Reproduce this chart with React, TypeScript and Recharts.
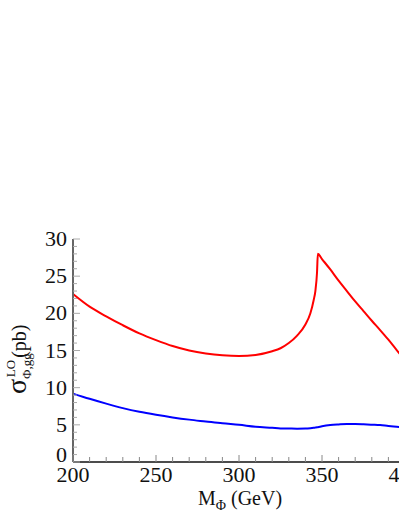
import { Line, LineChart, XAxis, YAxis } from "recharts";

const masses = [
  200, 210, 220, 230, 240, 250, 260, 270, 280, 290, 300, 310, 320, 325, 330,
  335, 340, 343, 345, 346, 347, 347.5, 350, 355, 360, 365, 370, 375, 380, 385,
  390, 395, 400,
];

const sigmaRed = [
  22.6, 20.9, 19.6, 18.4, 17.3, 16.4, 15.6, 15.0, 14.6, 14.35, 14.25, 14.4,
  14.9, 15.3, 16.0, 17.0, 18.5, 20.0, 21.8, 23.0, 25.5, 28.0, 27.3, 25.9, 24.4,
  23.0, 21.6, 20.3, 19.0, 17.75, 16.45, 15.05, 13.7,
];

const sigmaBlue = [
  9.2, 8.5, 7.85, 7.25, 6.75, 6.35, 6.0, 5.7, 5.45, 5.2, 5.0, 4.75, 4.6, 4.52,
  4.5, 4.48, 4.5, 4.55, 4.6, 4.63, 4.66, 4.68, 4.8, 4.97, 5.05, 5.1, 5.1, 5.07,
  5.02, 4.97, 4.85, 4.75, 4.65,
];

const xTicks = [
  200, 210, 220, 230, 240, 250, 260, 270, 280, 290, 300, 310, 320, 330, 340,
  350, 360, 370, 380, 390, 400,
];
const xLabels = [200, 250, 300, 350, 400];

const yTicks = Array.from({ length: 31 }, (_, i) => i);
const yLabels = [0, 5, 10, 15, 20, 25, 30];

const data = masses.map((m, i) => ({
  m,
  red: sigmaRed[i],
  blue: sigmaBlue[i],
}));

const FONT = '"Liberation Serif", "DejaVu Serif", serif';

function BottomTick(props: any) {
  const { x, y, payload } = props;
  const major = xLabels.includes(payload.value);
  return (
    <g>
      <line x1={x} x2={x} y1={y} y2={y - (major ? 7 : 5)} stroke="#888" strokeWidth={1} />
      {major && (
        <text x={x} y={y + 20} textAnchor="middle" fontSize={22} fontFamily={FONT} fill="#111">
          {payload.value}
        </text>
      )}
    </g>
  );
}

function TopTick(props: any) {
  const { x, y } = props;
  return <line x1={x} x2={x} y1={y} y2={y + 5} stroke="#aaa" strokeWidth={1} />;
}

function LeftTick(props: any) {
  const { x, y, payload } = props;
  const major = yLabels.includes(payload.value);
  return (
    <g>
      <line x1={x} x2={x + (major ? 7 : 4)} y1={y} y2={y} stroke="#aaa" strokeWidth={1} />
      {major && (
        <text
          x={x - 6}
          y={y + 7 - (payload.value === 0 ? 7 : 0)}
          textAnchor="end"
          fontSize={22}
          fontFamily={FONT}
          fill="#111"
        >
          {payload.value}
        </text>
      )}
    </g>
  );
}

function XLabel() {
  return (
    <text x={240} y={505} textAnchor="middle" fontSize={20} fontFamily={FONT} fill="#111">
      M
      <tspan fontSize={14} dy={5}>Φ</tspan>
      <tspan dy={-5}> (GeV)</tspan>
    </text>
  );
}

function YLabel() {
  return (
    <text
      x={26}
      y={394}
      transform="rotate(-90, 26, 394)"
      fontFamily={FONT}
      fill="#111"
      fontSize={20}
    >
      <tspan fontSize={28}>σ</tspan>
      <tspan fontSize={13} dy={5}>Φ,gg</tspan>
      <tspan fontSize={13} dx={-24} dy={-16}>LO</tspan>
      <tspan fontSize={20} dy={11} dx={2}>(pb)</tspan>
    </text>
  );
}

export default function App() {
  return (
    <div
      style={{
        position: "absolute",
        left: 0,
        top: 0,
        width: 399,
        height: 516,
        overflow: "hidden",
        background: "#fff",
      }}
    >
      <LineChart
        width={420}
        height={516}
        data={data}
        margin={{ top: 239, right: 15, left: 0, bottom: 0 }}
      >
        <XAxis
          dataKey="m"
          type="number"
          domain={[200, 400]}
          ticks={xTicks}
          interval={0}
          allowDataOverflow
          height={54}
          tickSize={0}
          tickMargin={0}
          tickLine={false}
          tick={<BottomTick />}
          axisLine={{ stroke: "#111", strokeWidth: 1.5 }}
          label={<XLabel />}
        />
        <XAxis
          xAxisId="top"
          orientation="top"
          dataKey="m"
          type="number"
          domain={[200, 400]}
          ticks={xTicks}
          interval={0}
          allowDataOverflow
          height={0}
          tickSize={0}
          tickMargin={0}
          tickLine={false}
          tick={<TopTick />}
          axisLine={{ stroke: "#777", strokeWidth: 2 }}
        />
        <YAxis
          type="number"
          domain={[0, 30]}
          ticks={yTicks}
          interval={0}
          allowDataOverflow
          width={73}
          tickSize={0}
          tickMargin={0}
          tickLine={false}
          tick={<LeftTick />}
          axisLine={{ stroke: "#666", strokeWidth: 2 }}
          label={<YLabel />}
        />
        <Line
          type="monotone"
          dataKey="red"
          stroke="#ff0000"
          strokeWidth={2}
          dot={false}
          isAnimationActive={false}
        />
        <Line
          type="monotone"
          dataKey="blue"
          stroke="#0000ff"
          strokeWidth={2}
          dot={false}
          isAnimationActive={false}
        />
      </LineChart>
    </div>
  );
}
